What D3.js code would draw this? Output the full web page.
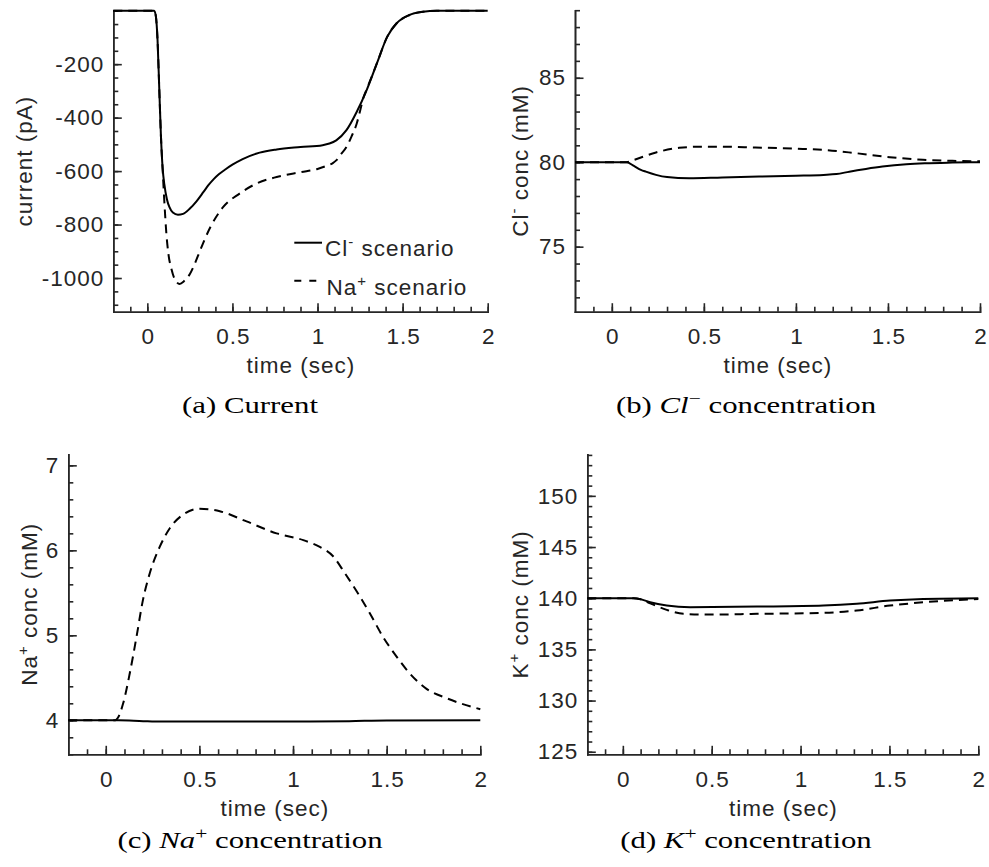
<!DOCTYPE html>
<html><head><meta charset="utf-8">
<script src="https://cdn.jsdelivr.net/npm/d3@7"></script>
<style>body{margin:0;background:#fff}svg{display:block}</style>
</head><body>
<svg id="chart" width="989" height="867"></svg>
<script>
// ---------- data ----------
const timeDomain = [-0.2, 2];
const xMajorTicks = [0, 0.5, 1, 1.5, 2];

// (a) current (pA)
const tCurrentCl = [-0.2, 0.04, 0.05, 0.06, 0.07, 0.08, 0.09, 0.10, 0.115, 0.13, 0.15, 0.18, 0.21, 0.25, 0.29, 0.33, 0.36, 0.39, 0.42, 0.46, 0.5, 0.56, 0.66, 0.76, 0.9, 1.03, 1.07, 1.11, 1.17, 1.23, 1.29, 1.35, 1.41, 1.465, 1.54, 1.62, 1.7, 2.0];
const currentCl  = [0, 0, -20, -110, -290, -470, -590, -650, -705, -735, -755, -763, -760, -740, -712, -678, -652, -630, -612, -593, -576, -555, -531, -519, -510, -503, -497, -485, -447, -379, -295, -195, -97, -47, -16, -4, 0, 0];
const tCurrentNa = [-0.2, 0.04, 0.05, 0.06, 0.07, 0.08, 0.09, 0.10, 0.112, 0.125, 0.141, 0.16, 0.19, 0.215, 0.25, 0.28, 0.31, 0.37, 0.445, 0.54, 0.64, 0.76, 0.9, 1.0, 1.05, 1.09, 1.11, 1.14, 1.17, 1.2, 1.23, 1.25, 1.27, 1.29, 1.35, 1.41, 1.465, 1.54, 1.62, 1.7, 2.0];
const currentNa  = [0, 0, -20, -110, -290, -470, -595, -715, -835, -915, -965, -1003, -1022, -1012, -985, -945, -897, -810, -735, -685, -647, -622, -604, -592, -581, -570, -560, -535, -510, -470, -423, -375, -325, -293, -195, -97, -47, -16, -4, 0, 0];
const yTicksCurrent = [-1000, -800, -600, -400, -200];

// (b) Cl- concentration (mM)
const tClConcCl = [-0.2, 0.08, 0.12, 0.158, 0.185, 0.24, 0.3, 0.42, 0.6, 0.8, 1.0, 1.15, 1.22, 1.29, 1.38, 1.47, 1.6, 1.7, 1.85, 2.0];
const clConcCl  = [80, 80, 79.78, 79.55, 79.44, 79.25, 79.12, 79.05, 79.1, 79.15, 79.2, 79.25, 79.3, 79.44, 79.6, 79.74, 79.88, 79.94, 79.98, 80];
const tClConcNa = [-0.2, 0.08, 0.121, 0.24, 0.366, 0.49, 0.6, 0.78, 1.0, 1.15, 1.33, 1.51, 1.69, 1.85, 2.0];
const clConcNa  = [80, 80, 80.14, 80.58, 80.85, 80.92, 80.92, 80.87, 80.8, 80.73, 80.53, 80.3, 80.14, 80.08, 80.05];
const yTicksCl = [75, 80, 85];

// (c) Na+ concentration (mM)
const tNaConcCl = [-0.2, 0.07, 0.2, 0.3, 1.0, 1.3, 1.5, 2.0];
const naConcCl  = [4, 4, 3.99, 3.985, 3.985, 3.99, 3.998, 4.0];
const tNaConcNa = [-0.2, 0.05, 0.065, 0.093, 0.128, 0.164, 0.199, 0.235, 0.288, 0.342, 0.413, 0.502, 0.609, 0.752, 0.912, 1.055, 1.143, 1.214, 1.277, 1.348, 1.41, 1.481, 1.553, 1.624, 1.713, 1.82, 2.0];
const naConcNa  = [4, 4, 4.03, 4.2, 4.55, 4.98, 5.42, 5.73, 6.04, 6.26, 6.42, 6.49, 6.46, 6.34, 6.2, 6.12, 6.04, 5.93, 5.73, 5.49, 5.26, 4.98, 4.75, 4.55, 4.37, 4.26, 4.13];
const yTicksNa = [4, 5, 6, 7];

// (d) K+ concentration (mM)
const tKConcCl = [-0.2, 0.06, 0.1, 0.154, 0.247, 0.379, 0.755, 1.128, 1.316, 1.503, 1.69, 2.0];
const kConcCl  = [140, 140, 139.9, 139.6, 139.28, 139.12, 139.18, 139.28, 139.45, 139.77, 139.93, 140];
const tKConcNa = [-0.2, 0.06, 0.1, 0.154, 0.247, 0.341, 0.472, 0.755, 1.128, 1.316, 1.503, 1.69, 2.0];
const kConcNa  = [140, 140, 139.9, 139.5, 138.86, 138.47, 138.4, 138.47, 138.57, 138.8, 139.28, 139.6, 139.93];
const yTicksK = [125, 130, 135, 140, 145, 150];

const legendLabels = [["Cl", "-", " scenario"], ["Na", "+", " scenario"]];

// ---------- layout ----------
const INK = '#262626';
const SANS = '"Liberation Sans", Arial, Helvetica, sans-serif';
const SERIF = '"Liberation Serif", "Times New Roman", serif';
const FS = 22.5, LS = 1;

const panels = [
  { box: [113.3, 487.7, 10.7, 311.7], yDomain: [-1126, 0], yMajor: yTicksCurrent, yMinor: d3.range(-1100, 1, 50),
    ylab: [["current (pA)", null, ""]], ylabX: 32,
    series: [[tCurrentCl, currentCl, false], [tCurrentNa, currentNa, true]],
    cap: ["(a) ", null, null, "Current"], capX: 250, capY: 413, legend: true },
  { box: [575, 980, 10.2, 311.7], yDomain: [71.15, 89], yMajor: yTicksCl, yMinor: d3.range(72, 89.5, 1),
    ylab: [["Cl", "-", " conc (mM)"]], ylabX: 528,
    series: [[tClConcCl, clConcCl, false], [tClConcNa, clConcNa, true]],
    cap: ["(b) ", "Cl", "\u2212", " concentration"], capX: 746, capY: 413 },
  { box: [68.3, 480.3, 454.3, 754.3], yDomain: [3.6, 7.13], yMajor: yTicksNa, yMinor: d3.range(3.6, 7.05, 0.2),
    ylab: [["Na", "+", " conc (mM)"]], ylabX: 36.5,
    series: [[tNaConcCl, naConcCl, false], [tNaConcNa, naConcNa, true]],
    cap: ["(c) ", "Na", "+", " concentration"], capX: 250, capY: 848 },
  { box: [587.3, 978.3, 454.3, 754.3], yDomain: [124.75, 154.06], yMajor: yTicksK, yMinor: d3.range(125, 154.5, 1),
    ylab: [["K", "+", " conc (mM)"]], ylabX: 528,
    series: [[tKConcCl, kConcCl, false], [tKConcNa, kConcNa, true]],
    cap: ["(d) ", "K", "+", " concentration"], capX: 746, capY: 848 }
];

const svg = d3.select('#chart');
const xMinorTicks = d3.range(-0.1, 2.05, 0.1);

function styleAxis(g) {
  g.select('.domain').attr('stroke', INK).attr('stroke-width', 1.6).attr('stroke-linecap', 'square');
  g.selectAll('.tick line').attr('stroke', INK).attr('stroke-width', 1.6);
  g.selectAll('.tick text').attr('fill', INK).style('font-family', SANS).style('font-size', FS + 'px').style('letter-spacing', LS + 'px');
}

const captionNodes = [];

panels.forEach((p, i) => {
  const [x0, x1, y0, y1] = p.box;
  const x = d3.scaleLinear().domain(timeDomain).range([x0, x1]);
  const y = d3.scaleLinear().domain(p.yDomain).range([y1, y0]);
  const g = svg.append('g');

  // minor ticks
  g.append('g').attr('transform', `translate(0,${y1})`)
    .call(d3.axisBottom(x).tickValues(xMinorTicks).tickSizeInner(-5).tickSizeOuter(0).tickFormat(''))
    .call(styleAxis);
  g.append('g').attr('transform', `translate(${x0},0)`)
    .call(d3.axisLeft(y).tickValues(p.yMinor).tickSizeInner(-5).tickSizeOuter(0).tickFormat(''))
    .call(styleAxis);
  // major ticks + labels
  g.append('g').attr('transform', `translate(0,${y1})`)
    .call(d3.axisBottom(x).tickValues(xMajorTicks).tickSizeInner(-8.5).tickSizeOuter(0).tickPadding(16.4).tickFormat(d => String(d)))
    .call(styleAxis)
    .selectAll('.tick text').attr('dx', (LS / 2) + 'px');
  g.append('g').attr('transform', `translate(${x0},0)`)
    .call(d3.axisLeft(y).tickValues(p.yMajor).tickSizeInner(-8.5).tickSizeOuter(0).tickPadding(10).tickFormat(d => String(d)))
    .call(styleAxis)
    .selectAll('.tick text').attr('dx', LS + 'px');

  // data lines
  const line = d3.line().x(d => x(d[0])).y(d => y(d[1])).curve(d3.curveMonotoneX);
  p.series.forEach(([t, v, dashed]) => {
    g.append('path').datum(d3.zip(t, v)).attr('d', line)
      .attr('fill', 'none').attr('stroke', '#000').attr('stroke-width', 2)
      .attr('stroke-linejoin', 'round')
      .attr('stroke-dasharray', dashed ? '9,6' : null);
  });

  // x label
  g.append('text').attr('x', (x0 + x1) / 2 + LS / 2).attr('y', y1 + 61.5)
    .attr('text-anchor', 'middle').attr('fill', INK)
    .style('font-family', SANS).style('font-size', FS + 'px').style('letter-spacing', LS + 'px')
    .text('time (sec)');

  // y label (rotated)
  const yl = g.append('text')
    .attr('transform', `translate(${p.ylabX},${(y0 + y1) / 2}) rotate(-90)`)
    .attr('text-anchor', 'middle').attr('fill', INK)
    .style('font-family', SANS).style('font-size', FS + 'px').style('letter-spacing', LS + 'px');
  const [base, sup, rest] = p.ylab[0];
  yl.append('tspan').text(base);
  if (sup) {
    yl.append('tspan').attr('dy', -9).style('font-size', '15px').text(sup);
    yl.append('tspan').attr('dy', 9).text(rest);
  }

  // caption
  const c = svg.append('text').attr('text-anchor', 'middle').attr('fill', '#000')
    .style('font-family', SERIF).style('font-size', '23px');
  c.append('tspan').text(p.cap[0]);
  if (p.cap[1]) {
    c.append('tspan').style('font-style', 'italic').text(p.cap[1]);
    c.append('tspan').attr('dy', -9).style('font-size', '16px').text(p.cap[2]);
    c.append('tspan').attr('dy', 9).text(p.cap[3]);
  } else {
    c.append('tspan').text(p.cap[3]);
  }
  captionNodes.push([c, p.capX, p.capY]);

  // legend
  if (p.legend) {
    const lg = g.append('g');
    const rows = [[242.7, null, 256], [280.7, '7,8', 295]];
    rows.forEach(([ly, dash, tb], k) => {
      lg.append('line').attr('x1', 294.3).attr('x2', dash ? 317.5 : 322).attr('y1', ly).attr('y2', ly)
        .attr('stroke', '#000').attr('stroke-width', 2).attr('stroke-dasharray', dash);
      const t = lg.append('text').attr('x', k === 0 ? 325 : 326.5).attr('y', tb).attr('fill', INK)
        .style('font-family', SANS).style('font-size', FS + 'px').style('letter-spacing', LS + 'px');
      const [b, s, r] = legendLabels[k];
      t.append('tspan').text(b);
      t.append('tspan').attr('dy', -9).style('font-size', '15px').text(s);
      t.append('tspan').attr('dy', 9).text(r);
    });
  }
});

// stretch captions horizontally (uniform factor) to match the reference typesetting width
const refW = captionNodes[2][0].node().getBBox().width;
const f = 266 / refW;
captionNodes.forEach(([c, cx, cy]) => {
  c.attr('transform', `translate(${cx},${cy}) scale(${f},1)`);
});
</script>
</body></html>
